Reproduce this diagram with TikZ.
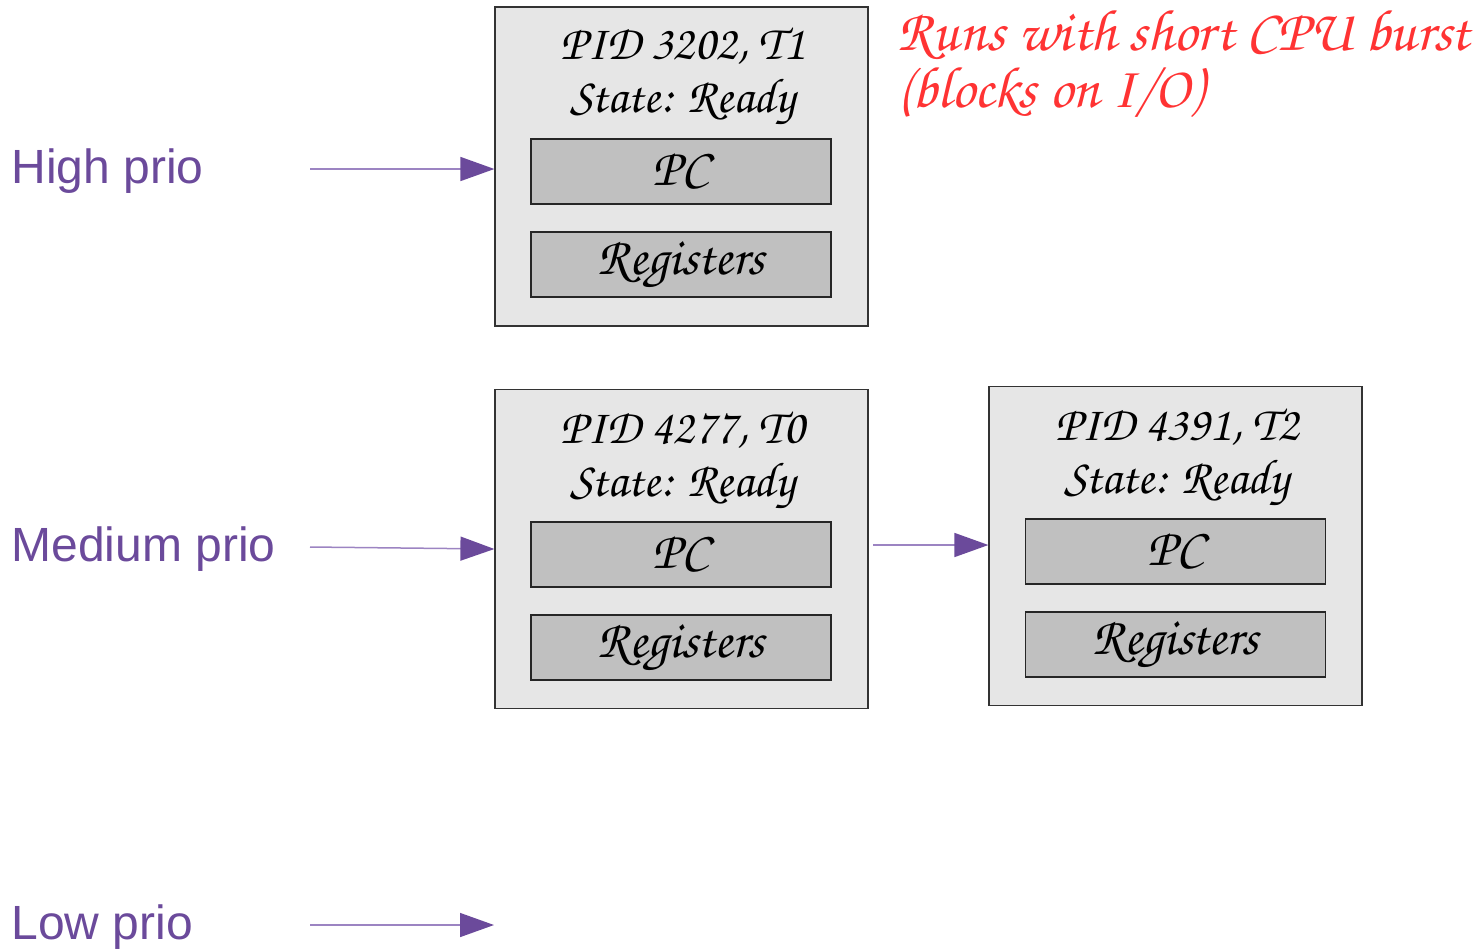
\documentclass[tikz,border=0pt]{standalone}
\usepackage{fontspec}
\setmainfont{Liberation Sans}
\newfontfamily\chorus{TeX Gyre Chorus}
\usetikzlibrary{arrows.meta}
\definecolor{prio}{HTML}{6B4A9B}
\definecolor{prioline}{HTML}{9C84C2}
\definecolor{outerfill}{HTML}{E6E6E6}
\definecolor{innerfill}{HTML}{C0C0C0}
\definecolor{redtxt}{HTML}{FF3333}
\newcommand{\lowertxt}[1]{\raisebox{-2.5pt}{#1}}
\tikzset{
  pcb/.style={draw=black!80, line width=0.6pt, fill=outerfill, minimum width=186.5pt, minimum height=159.5pt, inner sep=0pt},
  field/.style={draw=black!85, line width=0.6pt, fill=innerfill, minimum width=150pt, minimum height=32.5pt, inner sep=0pt, font=\chorus\fontsize{26.5}{28}\selectfont},
  title/.style={align=center, inner sep=0pt, font=\chorus\fontsize{24.5}{26.5}\selectfont},
  priolabel/.style={anchor=west, inner sep=0pt, text=prio, font=\fontsize{24}{28}\selectfont},
  arr/.style={draw=prioline, line width=0.75pt, -{Triangle[length=17pt,width=12pt,fill=prio,color=prio]}},
}
\begin{document}
\begin{tikzpicture}[x=0.5pt,y=-0.5pt]
\useasboundingbox (0,0) rectangle (1483,950);
% boxes
\node[pcb] (b1) at (681.5,166.5) {};
\node[pcb] (b2) at (681.5,549) {};
\node[pcb] (b3) at (1175.5,546) {};
% titles
\node[title] (t1) at (683,76) {PID 3202, T1\\State: Ready};
\node[title] (t2) at (683,460) {PID 4277, T0\\State: Ready};
\node[title] (t3) at (1177,457) {PID 4391, T2\\State: Ready};
% fields
\node[field] (pc1) at (681,171.5) {\lowertxt{PC}};
\node[field] (r1) at (681,264.5) {\lowertxt{Registers}};
\node[field] (pc2) at (681,554.5) {\lowertxt{PC}};
\node[field] (r2) at (681,647.5) {\lowertxt{Registers}};
\node[field] (pc3) at (1175.5,551.5) {\lowertxt{PC}};
\node[field] (r3) at (1175.5,644.5) {\lowertxt{Registers}};
% labels
\node[priolabel] (lh) at (11,171) {High prio};
\node[priolabel] (lm) at (11,549) {Medium prio};
\node[priolabel] (ll) at (11,927) {Low prio};
% note
\node[anchor=north west, align=left, inner sep=0pt, text=redtxt, font=\chorus\fontsize{29.3}{28.5}\selectfont] (note) at (897,10) {Runs with short CPU burst\\(blocks on I/O)};
% connectors
\coordinate (sh) at (310,169);
\coordinate (sm) at (310,547);
\coordinate (sl) at (310,925);
\coordinate (el) at (494,925);
\coordinate (s23) at (873,545);
\draw[arr] (sh) -- (sh -| b1.west);
\draw[arr] (sm) -- (b2.west);
\draw[arr] (s23) -- (s23 -| b3.west);
\draw[arr] (sl) -- (el);
\end{tikzpicture}
\end{document}
